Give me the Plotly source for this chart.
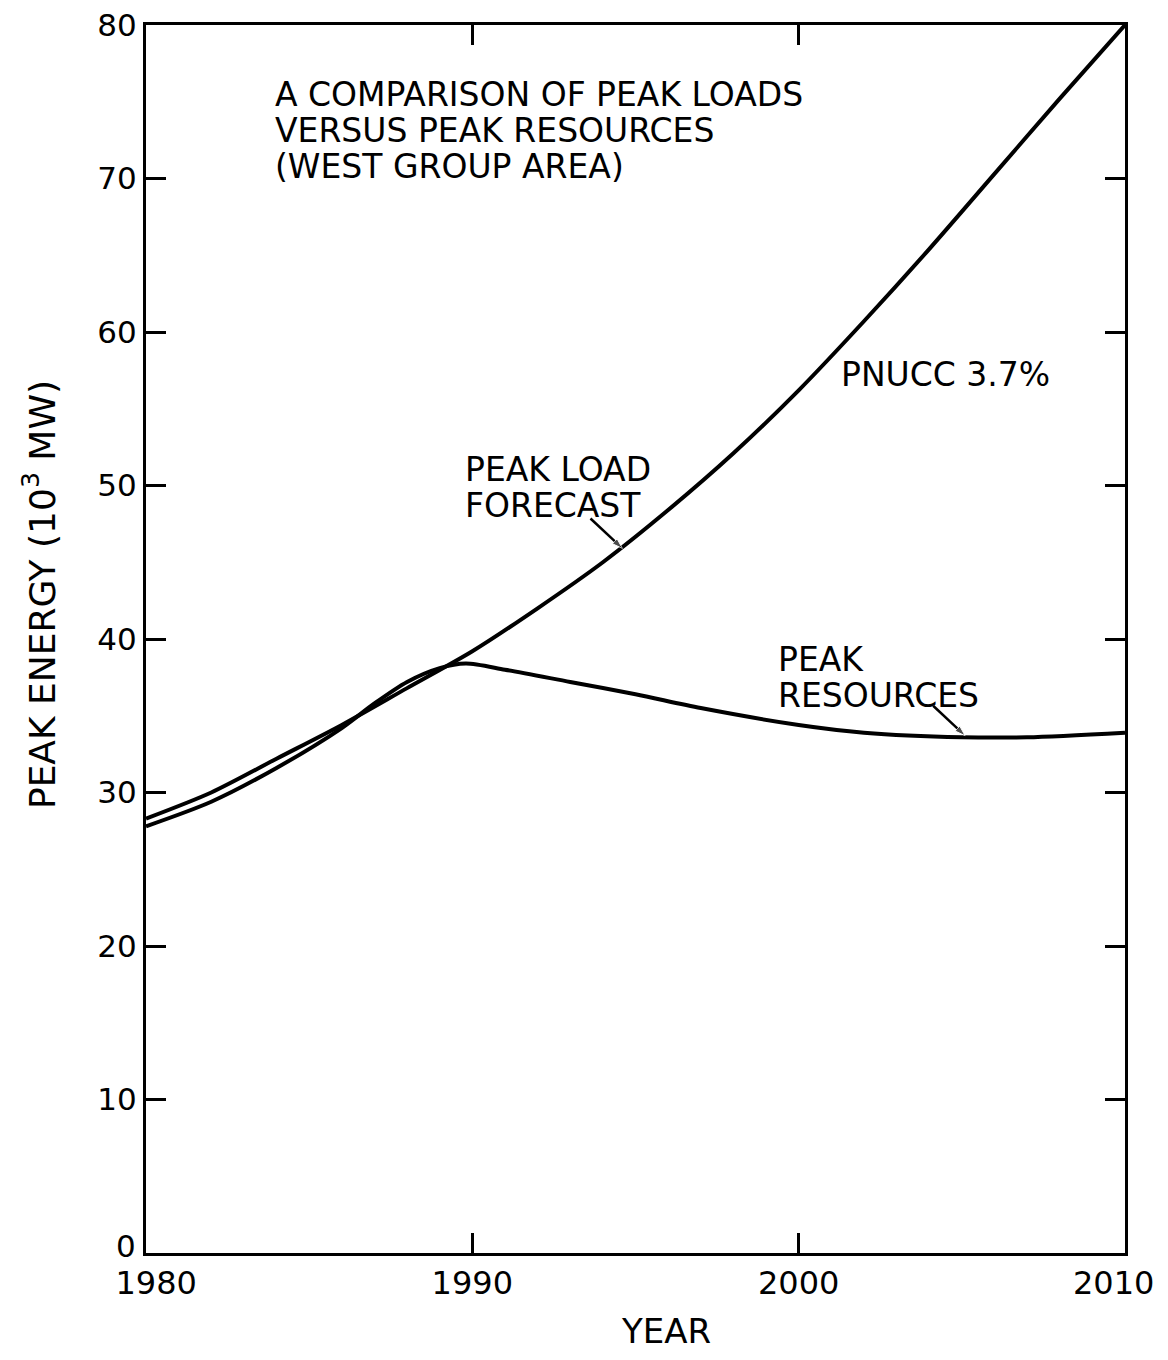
import plotly.graph_objects as go

# Data
load_years = [1980, 1982, 1984, 1986, 1988, 1990, 1992, 1994, 1996, 1998, 2000, 2002, 2004, 2006, 2008, 2010]
load_values = [28.3, 30.0, 32.2, 34.4, 36.8, 39.2, 42.0, 45.0, 48.4, 52.1, 56.2, 60.7, 65.4, 70.3, 75.2, 80.0]

res_years = [1980, 1982, 1984, 1986, 1987, 1988, 1989, 1989.8, 1991, 1993, 1995, 1997, 2000, 2002, 2005, 2007, 2010]
res_values = [27.8, 29.4, 31.6, 34.2, 35.8, 37.2, 38.1, 38.4, 38.0, 37.2, 36.4, 35.5, 34.4, 33.9, 33.6, 33.6, 33.9]

# label pointer arrows (tail -> head on the curve)
load_arrow_x = [1993.62, 1994.6]
load_arrow_y = [47.85, 45.9]
res_arrow_x = [2004.12, 2005.1]
res_arrow_y = [35.65, 33.7]

x_ticks = [1980, 1990, 2000]
x_tick_text = ["\u00a0\u00a01980", "1990", "2000"]
last_x_label = "2010"
y_ticks = [10, 20, 30, 40, 50, 60, 70, 80]
y_tick_text = ["10", "20", "30", "40", "50", "60", "70", "80"]
first_y_label = "0"

title_lines = ["A COMPARISON OF PEAK LOADS", "VERSUS PEAK RESOURCES", "(WEST GROUP AREA)"]
load_label = ["PEAK LOAD", "FORECAST"]
res_label = ["PEAK", "RESOURCES"]
rate_label = "PNUCC 3.7%"

FONT = "DejaVu Sans"

fig = go.Figure()
fig.add_trace(go.Scatter(x=load_years, y=load_values, mode="lines",
                         line=dict(color="black", width=4, shape="spline", smoothing=0.8),
                         name="Peak load forecast", showlegend=False))
fig.add_trace(go.Scatter(x=res_years, y=res_values, mode="lines",
                         line=dict(color="black", width=4, shape="spline", smoothing=0.8),
                         name="Peak resources", showlegend=False))

for ax_, ay_ in [(load_arrow_x, load_arrow_y), (res_arrow_x, res_arrow_y)]:
    fig.add_trace(go.Scatter(x=ax_, y=ay_, mode="lines+markers",
                             line=dict(color="black", width=2.5),
                             marker=dict(symbol="arrow", size=[0, 11], angleref="previous",
                                         color="black"),
                             showlegend=False, hoverinfo="skip"))


def block(x, y, lines, size, spacing):
    # glyph size set on spans; base font size controls line spacing (1.3 em)
    txt = "<br>".join('<span style="font-size:%dpx">%s</span>' % (size, t) for t in lines)
    fig.add_annotation(x=x, y=y, text=txt, xanchor="left", yanchor="middle", align="left",
                       showarrow=False,
                       font=dict(family=FONT, size=spacing / 1.3, color="black"))


block(1983.9, 73.1, title_lines, 33, 36)
block(1989.7, 49.85, load_label, 33, 35.5)
block(1999.3, 37.5, res_label, 33, 35.5)
block(2001.25, 57.2, [rate_label], 33, 33)

# the raised "0" label of the y axis
fig.add_annotation(x=0, xref="paper", y=0, yref="y", text=first_y_label, showarrow=False,
                   xanchor="right", yanchor="middle", xshift=-8, yshift=7,
                   font=dict(family=FONT, size=31, color="black"))
# the last x label, kept inside the page
fig.add_annotation(x=1, xref="paper", y=0, yref="paper", text=last_x_label, showarrow=False,
                   xanchor="right", yanchor="middle", xshift=31, yshift=-30,
                   font=dict(family=FONT, size=32, color="black"))

# axis titles
fig.add_annotation(x=0.531, y=-0.0635, xref="paper", yref="paper", text="YEAR",
                   showarrow=False, xanchor="center", yanchor="middle",
                   font=dict(family=FONT, size=34, color="black"))
fig.add_annotation(x=-0.109, y=0.536, xref="paper", yref="paper",
                   text="PEAK ENERGY (10<sup>3</sup> MW)", textangle=-90,
                   showarrow=False, xanchor="center", yanchor="middle",
                   font=dict(family=FONT, size=36, color="black"))

fig.update_xaxes(range=[1980, 2010], tickvals=x_ticks, ticktext=x_tick_text,
                 ticks="inside", ticklen=20, tickwidth=2.5, tickcolor="black",
                 showline=True, linewidth=3, linecolor="black", mirror="ticks",
                 showgrid=False, zeroline=False, automargin=False,
                 ticklabeloverflow="allow",
                 tickfont=dict(family=FONT, size=32, color="black"))
fig.update_yaxes(range=[0, 80], tickvals=y_ticks, ticktext=y_tick_text,
                 ticks="inside", ticklen=20, tickwidth=2.5, tickcolor="black",
                 showline=True, linewidth=3, linecolor="black", mirror="ticks",
                 showgrid=False, zeroline=False, automargin=False,
                 ticklabeloverflow="allow",
                 tickfont=dict(family=FONT, size=31, color="black"))

fig.update_layout(width=1152, height=1344, plot_bgcolor="white", paper_bgcolor="white",
                  margin=dict(l=138, r=35, t=17, b=99), showlegend=False)

fig.write_html("out.html")
